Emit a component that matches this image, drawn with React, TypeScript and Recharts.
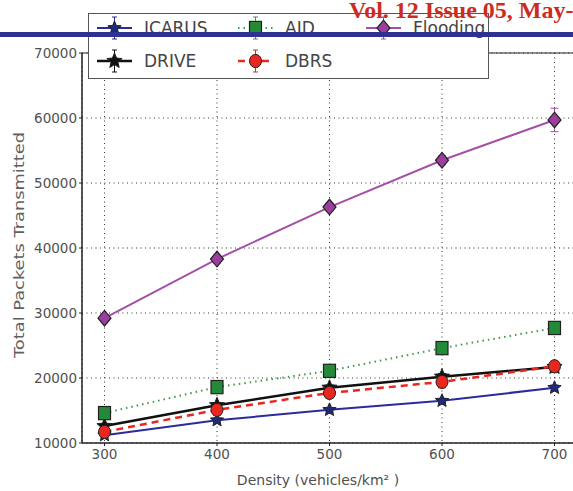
import React from "react";
import {
  LineChart,
  Line,
  XAxis,
  YAxis,
  CartesianGrid,
  ReferenceLine,
  ErrorBar,
  Label,
} from "recharts";

const density = [300, 400, 500, 600, 700];
const icarus = [11200, 13500, 15100, 16500, 18500];
const drive = [12600, 15800, 18500, 20200, 21700];
const aid = [14600, 18600, 21100, 24600, 27700];
const dbrs = [11700, 15100, 17700, 19400, 21800];
const flooding = [29200, 38300, 46300, 53500, 59700];

const icarusErr = [300, 300, 300, 300, 400];
const driveErr = [400, 400, 400, 500, 500];
const aidErr = [500, 600, 600, 700, 700];
const dbrsErr = [700, 800, 800, 900, 800];
const floodingErr = [500, 600, 600, 700, 1800];

const xTicks = [300, 400, 500, 600, 700];
const yTicks = [10000, 20000, 30000, 40000, 50000, 60000, 70000];

const data = density.map((d, i) => ({
  density: d,
  icarus: icarus[i],
  drive: drive[i],
  aid: aid[i],
  dbrs: dbrs[i],
  flooding: flooding[i],
  icarusErr: icarusErr[i],
  driveErr: driveErr[i],
  aidErr: aidErr[i],
  dbrsErr: dbrsErr[i],
  floodingErr: floodingErr[i],
}));

type Shape = "star" | "square" | "diamond" | "circle";

const series = [
  { key: "icarus", name: "ICARUS", color: "#2b2b9a", fill: "#1f2a7a", shape: "star" as Shape, size: 7, width: 2, dash: undefined as string | undefined },
  { key: "drive", name: "DRIVE", color: "#111111", fill: "#111111", shape: "star" as Shape, size: 8, width: 2.5, dash: undefined },
  { key: "aid", name: "AID", color: "#3a9a4a", fill: "#238a3a", shape: "square" as Shape, size: 6, width: 2, dash: "1.5 4" },
  { key: "dbrs", name: "DBRS", color: "#e8281e", fill: "#e8281e", shape: "circle" as Shape, size: 6, width: 2.5, dash: "7 5" },
  { key: "flooding", name: "Flooding", color: "#a450a8", fill: "#9a3fa0", shape: "diamond" as Shape, size: 6.5, width: 2, dash: undefined },
];

function starPoints(cx: number, cy: number, r: number) {
  const pts: string[] = [];
  for (let i = 0; i < 10; i++) {
    const rad = i % 2 === 0 ? r : r * 0.45;
    const a = -Math.PI / 2 + (i * Math.PI) / 5;
    pts.push(`${cx + rad * Math.cos(a)},${cy + rad * Math.sin(a)}`);
  }
  return pts.join(" ");
}

function Marker({ cx, cy, shape, fill, size }: { cx: number; cy: number; shape: Shape; fill: string; size: number }) {
  const edge = "#222";
  if (shape === "star") return <polygon points={starPoints(cx, cy, size)} fill={fill} stroke={edge} strokeWidth={1} />;
  if (shape === "square")
    return <rect x={cx - size} y={cy - size * 1.1} width={size * 2} height={size * 2.2} fill={fill} stroke={edge} strokeWidth={1.2} />;
  if (shape === "diamond") {
    const h = size * 1.2;
    return (
      <polygon
        points={`${cx},${cy - h} ${cx + size},${cy} ${cx},${cy + h} ${cx - size},${cy}`}
        fill={fill}
        stroke={edge}
        strokeWidth={1.2}
      />
    );
  }
  return <ellipse cx={cx} cy={cy} rx={size} ry={size * 1.1} fill={fill} stroke={edge} strokeWidth={1} />;
}

// matplotlib-style legend, 3 columns filled column-wise
const legendPos: Record<string, { x: number; y: number }> = {
  icarus: { x: 8, y: 14 },
  drive: { x: 8, y: 47 },
  aid: { x: 149, y: 14 },
  dbrs: { x: 149, y: 47 },
  flooding: { x: 277, y: 14 },
};

function LegendBox() {
  return (
    <div
      style={{
        position: "absolute",
        left: 88,
        top: 13,
        width: 401,
        height: 66,
        background: "#fff",
        border: "1px solid #555",
        boxSizing: "border-box",
      }}
    >
      {series.map((s) => {
        const p = legendPos[s.key];
        return (
          <div key={s.key}>
            <svg style={{ position: "absolute", left: p.x, top: p.y - 14 }} width={36} height={28}>
              <line x1={0} y1={14} x2={35} y2={14} stroke={s.color} strokeWidth={s.width} strokeDasharray={s.dash} />
              <line x1={17.5} y1={3} x2={17.5} y2={25} stroke={s.color} strokeWidth={1} />
              <line x1={15} y1={3} x2={20} y2={3} stroke={s.color} strokeWidth={1} />
              <line x1={15} y1={25} x2={20} y2={25} stroke={s.color} strokeWidth={1} />
              <Marker cx={17.5} cy={14} shape={s.shape} fill={s.fill} size={s.size} />
            </svg>
            <span
              style={{
                position: "absolute",
                left: p.x + 47,
                top: p.y - 11,
                fontFamily: "DejaVu Sans",
                fontSize: 17,
                lineHeight: "22px",
                color: "#444",
              }}
            >
              {s.name}
            </span>
          </div>
        );
      })}
    </div>
  );
}

const tickStyle = { fill: "#505050", fontSize: 13.5, fontFamily: "DejaVu Sans" };

export default function App() {
  return (
    <div style={{ position: "absolute", left: 0, top: 0, width: 573, height: 491, overflow: "hidden", background: "#fff" }}>
      <LineChart width={590} height={491} data={data} margin={{ top: 53, right: 13, bottom: 0, left: 0 }}>
        <CartesianGrid stroke="#333" strokeDasharray="1 3.5" />
        <XAxis
          dataKey="density"
          type="number"
          domain={[280, 720]}
          ticks={xTicks}
          height={48}
          tick={tickStyle}
          tickSize={3}
          tickMargin={3}
          axisLine={{ stroke: "#222", strokeWidth: 1.5 }}
          tickLine={{ stroke: "#222" }}
        >
          <Label
            content={() => (
              <text x={318} y={485} textAnchor="middle" fill="#505050" fontSize={14} fontFamily="DejaVu Sans">
                Density (vehicles/km² )
              </text>
            )}
          />
        </XAxis>
        <YAxis
          type="number"
          domain={[10000, 70000]}
          ticks={yTicks}
          width={82}
          tick={tickStyle}
          tickSize={3}
          tickMargin={2}
          interval={0}
          axisLine={{ stroke: "#222", strokeWidth: 1.5 }}
          tickLine={{ stroke: "#222" }}
        >
          <Label
            content={() => (
              <text
                x={0}
                y={0}
                transform="translate(24,245) rotate(-90)"
                textAnchor="middle"
                fill="#606060"
                fontSize={14}
                fontFamily="DejaVu Sans"
                textLength={226}
                lengthAdjust="spacingAndGlyphs"
              >
                Total Packets Transmitted
              </text>
            )}
          />
        </YAxis>
        <ReferenceLine y={70000} stroke="#222" strokeWidth={1.2} />
        {series.map((s) => (
          <Line
            key={s.key}
            dataKey={s.key}
            name={s.name}
            stroke={s.color}
            strokeWidth={s.width}
            strokeDasharray={s.dash}
            isAnimationActive={false}
            dot={(p: any) => <Marker key={`${s.key}-${p.index}`} cx={p.cx} cy={p.cy} shape={s.shape} fill={s.fill} size={s.size} />}
          >
            <ErrorBar dataKey={`${s.key}Err`} width={4} stroke={s.color} strokeWidth={1} direction="y" />
          </Line>
        ))}
      </LineChart>
      <LegendBox />
      <div style={{ position: "absolute", left: 0, top: 32, width: 573, height: 5, background: "#2e3192" }} />
      <div
        style={{
          position: "absolute",
          left: 349,
          top: -3,
          whiteSpace: "nowrap",
          fontFamily: "Liberation Serif",
          fontWeight: "bold",
          fontSize: 24,
          color: "#cc2b1e",
        }}
      >
        Vol. 12 Issue 05, May-
      </div>
    </div>
  );
}
